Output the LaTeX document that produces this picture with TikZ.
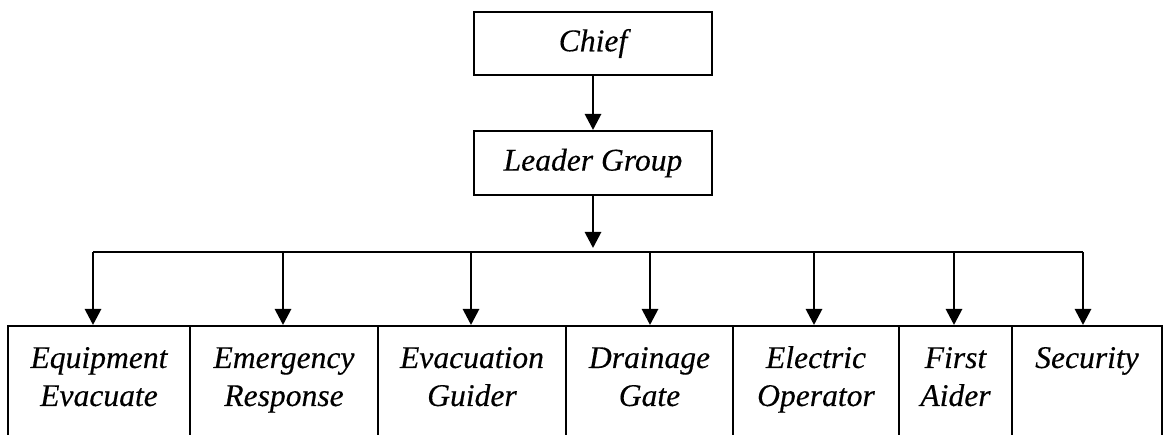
\documentclass[tikz,border=0pt]{standalone}
\usepackage{fontspec}
\setmainfont{Liberation Serif}[ItalicFeatures={FakeBold=0.3}]
\usetikzlibrary{arrows.meta}
\tikzset{
  txt/.style={font=\itshape\fontsize{31.6}{38}\selectfont},
  topbox/.style={txt, draw, line width=2pt, minimum width=238pt, inner sep=0pt},
  unitbox/.style={txt, draw, line width=2pt, inner sep=0pt, anchor=north},
  arr/.style={line width=2.8pt, -{Triangle[length=16pt,width=16pt]}},
  bus/.style={line width=1.5pt},
}
\begin{document}
\begin{tikzpicture}[x=1pt,y=-1pt]
\useasboundingbox (0,0) rectangle (1163,435);
\clip (0,0) rectangle (1163,435);
\node[topbox, minimum height=63pt] (chief) at (593,43.5) {Chief};
\node[topbox, minimum height=64pt] (leader) at (593,163) {Leader Group};

\node[unitbox] (e1) at (99,325) {\parbox[t][120pt][t]{182pt}{\centering\vspace*{15.4pt}\strut Equipment\\\strut Evacuate}};
\node[unitbox] (e2) at (284,325) {\parbox[t][120pt][t]{188pt}{\centering\vspace*{15.4pt}\strut Emergency\\\strut Response}};
\node[unitbox] (e3) at (472,325) {\parbox[t][120pt][t]{188pt}{\centering\vspace*{15.4pt}\strut Evacuation\\\strut Guider}};
\node[unitbox] (e4) at (649.5,325) {\parbox[t][120pt][t]{167pt}{\centering\vspace*{15.4pt}\strut Drainage\\\strut Gate}};
\node[unitbox] (e5) at (816,325) {\parbox[t][120pt][t]{166pt}{\centering\vspace*{15.4pt}\strut Electric\\\strut Operator}};
\node[unitbox] (e6) at (955.5,325) {\parbox[t][120pt][t]{113pt}{\centering\vspace*{15.4pt}\strut First\\\strut Aider}};
\node[unitbox] (e7) at (1087,325) {\parbox[t][120pt][t]{150pt}{\centering\vspace*{15.4pt}\strut Security}};

\coordinate (hub) at (593,252);
\coordinate (b1) at (93,252);
\coordinate (b2) at (283,252);
\coordinate (b3) at (471,252);
\coordinate (b4) at (650,252);
\coordinate (b5) at (814,252);
\coordinate (b6) at (954,252);
\coordinate (b7) at (1083,252);

\draw[arr] (chief) -- (leader);
\draw[arr, shorten >=4pt] (leader) -- (hub);
\draw[bus] (b1) -- (b7);
\foreach \i in {1,...,7} {
  \draw[arr] (b\i) -- (b\i |- e\i.north);
}
\end{tikzpicture}
\end{document}
